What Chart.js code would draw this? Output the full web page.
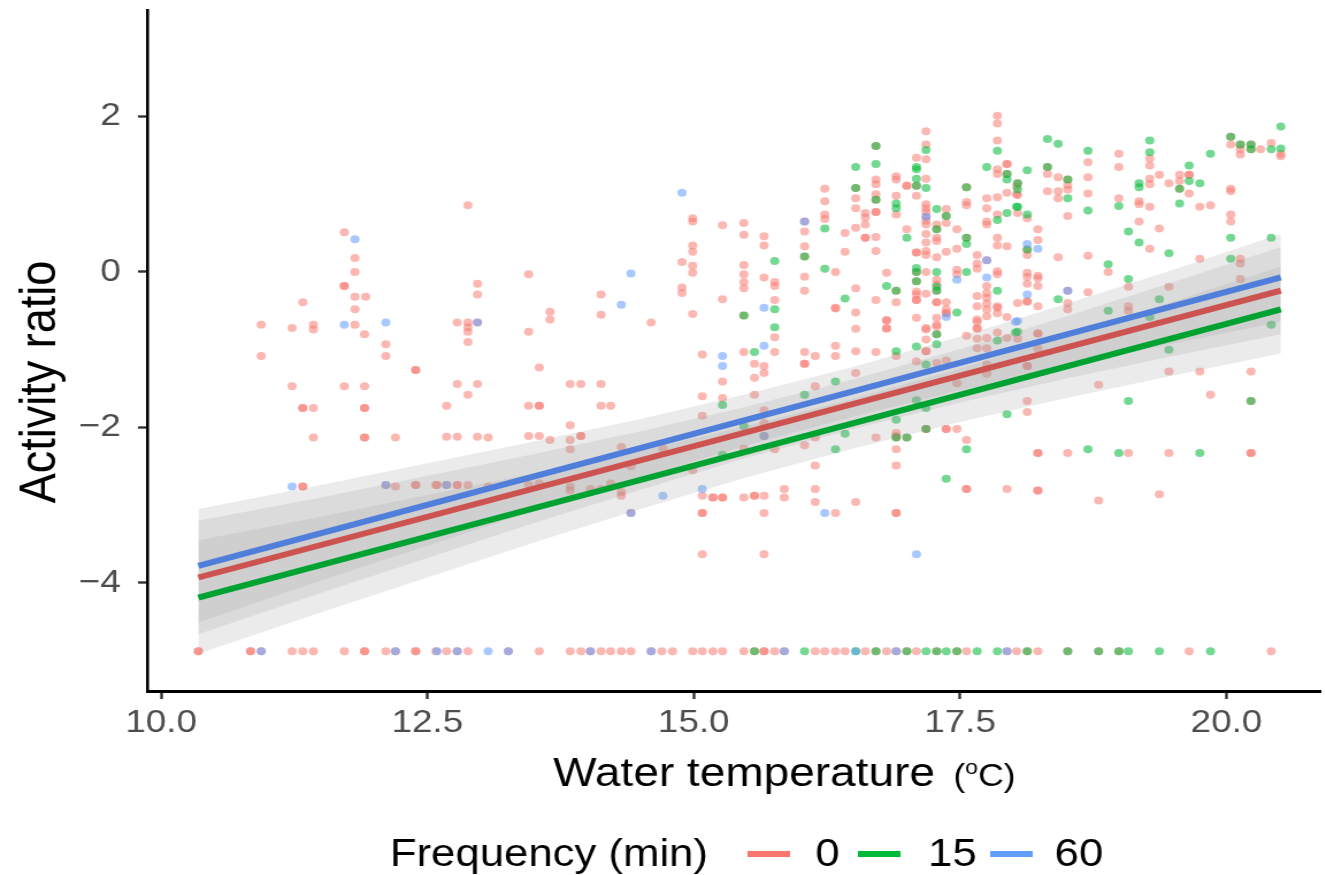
<!DOCTYPE html>
<html>
<head>
<meta charset="utf-8">
<script src="https://cdn.jsdelivr.net/npm/chart.js@4.4.1/dist/chart.umd.min.js"></script>
<style>
  html, body { margin: 0; padding: 0; background: #fff; overflow: hidden; }
  /* the reference is stretched sideways, so the canvas is drawn narrow and widened */
  #chart { display: block; transform: scaleX(1.15); transform-origin: 0 0; }
</style>
</head>
<body>
<canvas id="chart" width="1152" height="875"></canvas>
<script>
const FAMILY = '"Liberation Sans", Arial, Helvetica, sans-serif';

// axis ranges and ticks
const xRange = [9.87, 20.88];
const yRange = [-5.39, 3.37];
const xTicks = [10, 12.5, 15, 17.5, 20];
const yTicks = [-4, -2, 0, 2];

const groups = ['0', '15', '60'];

// fitted lines (start / end)
const fitX = [10.35, 20.51];
const fit0 = [-3.93, -0.24];
const fit15 = [-4.19, -0.48];
const fit60 = [-3.78, -0.07];

// confidence ribbons, read at these temperatures
const bandX = [10.35, 11.5, 12.5, 13.5, 14.5, 15.5, 16.5, 17.5, 18.5, 19.5, 20.51];
const band0Hi = [-3.20, -2.90, -2.62, -2.34, -2.05, -1.73, -1.38, -0.99, -0.57, -0.13, 0.32];
const band0Lo = [-4.66, -4.13, -3.68, -3.23, -2.80, -2.39, -2.02, -1.68, -1.37, -1.08, -0.80];
const band15Hi = [-3.45, -3.15, -2.87, -2.59, -2.30, -1.98, -1.63, -1.24, -0.82, -0.38, 0.07];
const band15Lo = [-4.91, -4.38, -3.93, -3.48, -3.05, -2.64, -2.27, -1.93, -1.62, -1.33, -1.05];
const band60Hi = [-3.05, -2.74, -2.46, -2.18, -1.89, -1.57, -1.22, -0.83, -0.41, 0.03, 0.49];
const band60Lo = [-4.51, -3.97, -3.52, -3.07, -2.64, -2.23, -1.86, -1.52, -1.21, -0.92, -0.64];

// observations [temperature, activity ratio]
const pts0 = [
  [10.35,-4.88],[10.35,-4.88],[10.84,-4.88],[10.84,-4.88],[10.94,-4.88],[11.23,-4.88],[11.33,-4.88],[11.43,-4.88],
  [11.72,-4.88],[11.91,-4.88],[11.91,-4.88],[12.11,-4.88],[12.20,-4.88],[12.39,-4.88],[12.39,-4.88],[12.58,-4.88],
  [12.68,-4.88],[12.78,-4.88],[12.88,-4.88],[13.26,-4.88],[13.55,-4.88],[13.84,-4.88],[13.94,-4.88],[14.03,-4.88],
  [14.13,-4.88],[14.22,-4.88],[14.32,-4.88],[14.41,-4.88],[14.60,-4.88],[14.70,-4.88],[14.80,-4.88],[14.99,-4.88],
  [15.08,-4.88],[15.18,-4.88],[15.27,-4.88],[15.47,-4.88],[15.57,-4.88],[15.66,-4.88],[15.66,-4.88],[15.76,-4.88],
  [15.85,-4.88],[16.14,-4.88],[16.23,-4.88],[16.33,-4.88],[16.42,-4.88],[16.61,-4.88],[16.71,-4.88],[16.81,-4.88],
  [16.90,-4.88],[17.00,-4.88],[17.09,-4.88],[17.28,-4.88],[17.47,-4.88],[17.56,-4.88],[17.94,-4.88],[18.03,-4.88],
  [18.13,-4.88],[18.23,-4.88],[18.51,-4.88],[18.80,-4.88],[18.99,-4.88],[19.65,-4.88],[20.42,-4.88],
  [11.72,0.51],[11.82,0.18],[11.82,0.00],[11.72,-0.18],[11.72,-0.18],[11.82,-0.32],[11.92,-0.32],[11.33,-0.39],
  [11.82,-0.48],[10.94,-0.68],[11.23,-0.72],[11.43,-0.68],[11.43,-0.74],[11.82,-0.68],[11.91,-0.80],[12.11,-0.93],
  [10.94,-1.08],[12.11,-1.08],[12.39,-1.26],[12.39,-1.26],[11.23,-1.47],[11.72,-1.47],[11.91,-1.47],[11.33,-1.75],
  [11.33,-1.75],[11.43,-1.75],[11.91,-1.75],[11.91,-1.75],[11.43,-2.13],[11.91,-2.13],[11.91,-2.13],[12.20,-2.13],
  [11.33,-2.76],[11.33,-2.76],[12.11,-2.74],[12.20,-2.76],[12.39,-2.74],[12.39,-2.74],[12.58,-2.74],
  [12.88,0.86],[14.99,0.69],[14.99,0.65],[15.27,0.60],[14.99,0.34],[14.99,0.26],[14.89,0.13],[14.99,0.08],
  [14.99,-0.01],[12.97,-0.15],[12.97,-0.29],[13.45,-0.03],[14.13,-0.29],[14.89,-0.20],[14.89,-0.27],[15.27,-0.35],
  [13.65,-0.51],[13.65,-0.61],[14.13,-0.55],[14.99,-0.54],[14.60,-0.65],[12.78,-0.65],[12.88,-0.65],[12.88,-0.71],
  [12.88,-0.77],[12.88,-0.90],[12.97,-0.65],[13.45,-0.77],[13.55,-1.23],[12.78,-1.44],[12.97,-1.44],[12.88,-1.58],
  [12.68,-1.72],[13.45,-1.72],[13.55,-1.72],[13.55,-1.72],[13.84,-1.44],[13.94,-1.44],[14.13,-1.44],[14.13,-1.72],
  [14.22,-1.72],[12.68,-2.12],[12.78,-2.12],[12.97,-2.12],[13.07,-2.13],[13.45,-2.11],[13.55,-2.11],[13.65,-2.16],
  [13.84,-1.97],[13.84,-2.16],[13.94,-2.11],[13.94,-2.11],[13.84,-2.28],[14.32,-2.25],[14.71,-2.27],[15.08,-1.06],
  [15.08,-1.60],[15.08,-1.85],[15.27,-1.41],[15.27,-1.62],[12.59,-2.74],[12.68,-2.74],[12.78,-2.74],[12.78,-2.74],
  [12.88,-2.74],[13.07,-2.76],[13.45,-2.74],[13.55,-2.72],[13.84,-2.76],[13.84,-2.81],[14.03,-2.79],[14.13,-2.79],
  [14.22,-2.72],[14.32,-2.83],[14.32,-2.88],[14.41,-2.50],[14.41,-3.10],[14.99,-2.55],[15.08,-2.88],[15.18,-2.90],
  [15.18,-2.90],[15.27,-2.90],[15.27,-2.90],[15.08,-3.10],[15.08,-3.10],[15.08,-3.63],
  [15.47,0.63],[15.47,0.48],[15.47,0.09],[15.47,-0.03],[15.47,-0.13],[15.47,-0.21],[15.47,-0.56],[15.66,0.46],
  [15.66,0.34],[15.66,-0.07],[15.76,-0.13],[15.76,-0.18],[15.76,-0.36],[16.04,0.65],[16.04,0.52],[16.04,0.33],
  [16.04,0.20],[16.04,-0.06],[16.04,-0.24],[16.23,1.07],[16.23,0.91],[16.23,0.74],[16.23,0.68],[16.33,0.00],
  [16.33,-0.47],[16.42,0.50],[16.42,0.26],[16.52,1.08],[16.52,0.95],[16.52,0.82],[16.52,0.57],[16.52,-0.21],
  [16.52,-0.52],[16.61,0.76],[16.61,0.70],[16.61,0.61],[16.61,0.44],[16.61,0.44],[16.71,1.62],[16.71,1.19],
  [16.71,1.13],[16.71,1.00],[16.71,0.93],[16.71,0.77],[16.71,0.77],[16.71,0.45],[16.71,0.27],[16.71,-0.36],
  [16.81,-0.01],[16.81,-0.62],[16.81,-0.62],[16.81,-0.72],[16.90,1.23],[16.90,1.19],[16.90,0.98],[16.90,0.74],
  [16.90,-0.24],[16.90,-0.39],[17.00,1.11],[17.00,1.11],[17.00,0.55],[17.09,1.47],[17.09,1.11],[17.09,0.98],
  [17.09,0.25],[17.09,0.25],[17.09,0.00],[17.09,-0.12],[17.09,-0.25],[17.09,-0.29],[17.09,-0.36],[17.09,-0.36],
  [17.09,-0.59],[17.18,1.81],[17.18,1.64],[17.18,1.45],[17.18,1.20],[17.18,0.87],[17.18,0.82],[17.18,0.77],
  [17.18,0.71],[17.18,0.66],[17.18,0.61],[17.18,0.49],[17.18,0.38],[17.18,0.27],[17.18,0.22],[17.18,0.00],
  [17.18,-0.28],[17.18,-0.72],[17.28,0.61],[17.28,0.55],[17.28,0.44],[17.28,0.40],[17.28,0.19],[17.28,-0.10],
  [17.28,-0.16],[17.28,-0.24],[17.28,-0.39],[17.28,-0.39],[17.28,-0.59],[17.28,-0.70],[17.37,0.81],[17.37,0.63],
  [17.37,0.72],[17.37,0.26],[17.37,-0.39],[17.37,-0.48],[17.37,-0.53],[17.37,-0.53],[17.47,0.55],[17.47,0.30],
  [17.47,0.03],[17.47,-0.03],[17.56,1.09],[17.56,0.90],[17.56,0.86],[17.56,0.44],[17.66,0.22],[17.66,0.11],
  [17.66,0.04],[17.66,-0.31],[17.66,-0.44],[17.66,-0.61],[17.66,-0.72],[17.75,0.95],[17.75,0.82],[17.75,0.65],
  [17.75,0.61],[17.75,0.15],[17.75,-0.18],[17.75,-0.27],[17.75,-0.33],[17.75,-0.41],[17.75,-0.48],[17.75,-0.57],
  [17.85,2.01],[17.85,1.91],[17.85,1.69],[17.85,1.32],[17.85,1.26],[17.85,0.96],[17.85,0.74],[17.85,0.44],
  [17.85,0.34],[17.85,0.01],[17.85,-0.03],[17.85,-0.44],[17.85,-0.53],[17.94,1.39],[17.94,1.39],[17.94,1.26],
  [17.94,1.02],[17.94,0.33],[17.94,-0.58],[18.03,1.10],[18.03,1.00],
  [15.47,-1.03],[15.47,-2.27],[15.57,-1.18],[15.57,-1.36],[15.57,-1.58],[15.66,-1.21],[15.66,-1.30],[15.66,-1.78],
  [15.66,-1.94],[15.66,-2.11],[15.76,-0.84],[15.76,-1.03],[15.76,-2.28],[16.04,-1.03],[16.04,-1.18],[16.04,-1.18],
  [16.04,-2.23],[16.14,-1.08],[16.14,-1.47],[16.14,-2.13],[16.14,-2.49],[16.33,-0.46],[16.33,-0.95],[16.33,-1.08],
  [16.52,-0.73],[16.52,-1.02],[16.52,-1.30],[16.71,-1.03],[16.71,-2.13],[16.81,-0.73],[16.90,-1.08],[16.90,-2.07],
  [16.90,-2.11],[16.90,-2.13],[16.90,-2.28],[16.90,-2.49],[17.00,-2.13],[17.09,-1.15],[17.18,-0.74],[17.18,-0.87],
  [17.18,-1.02],[17.18,-1.02],[17.18,-2.02],[17.18,-2.02],[17.28,-0.68],[17.28,-0.80],[17.28,-1.17],[17.37,-1.14],
  [17.37,-2.02],[17.37,-2.02],[17.47,-1.43],[17.47,-2.02],[17.56,-0.82],[17.56,-2.16],[17.56,-2.79],[17.56,-2.79],
  [17.66,-0.64],[17.66,-0.73],[17.66,-0.86],[17.66,-0.98],[17.75,-0.85],[17.75,-0.98],[17.75,-1.19],[17.75,-1.31],
  [17.85,-0.46],[17.85,-0.78],[17.94,-2.79],[17.94,-0.85],[15.47,-2.90],[15.57,-2.88],[15.57,-2.88],[15.66,-2.88],
  [15.85,-2.79],[15.85,-2.90],[16.14,-2.79],[16.14,-2.96],[16.52,-2.96],[15.66,-3.10],[16.33,-3.10],[16.90,-3.10],
  [16.90,-3.10],[15.66,-3.63],
  [18.04,1.14],[18.04,0.99],[18.04,0.76],[18.13,0.69],[18.13,0.29],[18.13,0.22],[18.13,-0.01],[18.13,-0.06],
  [18.13,-0.15],[18.13,-0.38],[18.13,-0.38],[18.23,0.55],[18.23,0.41],[18.23,-0.05],[18.23,-0.08],[18.23,-0.18],
  [18.23,-0.44],[18.32,1.35],[18.32,1.26],[18.32,1.04],[18.42,1.22],[18.42,1.04],[18.42,0.95],[18.42,0.19],
  [18.51,1.19],[18.51,1.12],[18.51,1.06],[18.51,0.72],[18.51,-0.24],[18.51,-0.40],[18.51,-0.48],[18.70,1.41],
  [18.70,1.22],[18.70,1.01],[18.70,0.21],[18.70,-0.26],[18.89,0.00],[18.99,1.52],[18.99,1.35],[18.99,0.95],
  [19.08,-0.19],[19.08,-0.44],[19.08,-0.50],[19.18,0.91],[19.18,0.87],[19.18,0.65],[19.28,1.46],[19.28,1.37],
  [19.28,1.20],[19.28,1.13],[19.28,0.84],[19.28,0.30],[19.37,1.25],[19.37,0.56],[19.46,1.14],[19.46,-0.19],
  [19.56,1.25],[19.56,1.17],[19.56,1.07],[19.65,1.25],[19.65,1.25],[19.65,1.01],[19.75,0.84],[19.75,0.17],
  [19.85,0.86],[20.04,1.74],[20.04,1.64],[20.04,1.07],[20.04,1.04],[20.04,0.74],[20.04,0.65],[20.13,1.64],
  [20.13,1.58],[20.13,1.51],[20.13,0.17],[20.13,0.11],[20.13,-0.09],[20.23,1.64],[20.23,1.58],[20.32,1.58],
  [20.42,1.66],[20.51,1.52],[20.51,1.49],
  [18.04,-0.40],[18.04,-0.86],[18.23,-0.79],[18.23,-0.79],[18.23,-0.98],[18.13,-1.21],[18.13,-1.21],[19.46,-1.28],
  [19.75,-1.28],[20.23,-1.28],[18.80,-1.45],[19.85,-1.58],[18.13,-1.66],[18.13,-1.80],[18.23,-2.33],[18.23,-2.33],
  [18.51,-2.33],[19.08,-2.33],[19.46,-2.33],[20.23,-2.33],[20.23,-2.33],[18.23,-2.81],[18.23,-2.81],[18.80,-2.94],
  [19.37,-2.86],[20.23,-1.66]
];

const pts15 = [
  [15.57,-4.88],[16.04,-4.88],[16.52,-4.88],[16.71,-4.88],[17.00,-4.88],[17.18,-4.88],[17.28,-4.88],[17.37,-4.88],
  [17.47,-4.88],[17.66,-4.88],[17.85,-4.88],[18.13,-4.88],[18.51,-4.88],[18.80,-4.88],[18.99,-4.88],[19.08,-4.88],
  [19.37,-4.88],[19.85,-4.88],
  [15.27,-1.71],[15.27,-2.35],[15.47,-0.56],[15.76,0.14],[15.76,-0.48],[15.76,-0.71],[16.04,0.20],[16.23,0.56],
  [16.23,0.04],[16.42,-0.34],[16.52,1.35],[16.52,1.08],[16.71,1.62],[16.71,1.39],[16.71,0.93],[16.81,-0.18],
  [16.90,0.88],[16.90,0.82],[16.90,-0.24],[17.00,0.44],[17.09,1.35],[17.09,1.32],[17.09,1.20],[17.09,1.11],
  [17.09,0.05],[17.09,0.00],[17.09,-0.12],[17.18,1.57],[17.18,1.08],[17.28,0.81],[17.28,0.55],[17.28,0.00],
  [17.28,-0.19],[17.28,-0.24],[17.37,0.72],[17.47,-0.52],[17.56,1.09],[17.56,0.44],[17.56,0.36],[17.56,0.00],
  [17.75,1.35],[17.85,1.56],[17.85,0.67],[17.85,-0.24],[17.94,1.26],[17.94,1.19],[17.94,0.76],[18.03,0.84],
  [15.47,-1.98],[15.57,-1.03],[16.04,-1.58],[16.33,-1.41],[16.33,-2.28],[16.42,-2.08],[16.90,-1.02],[16.90,-1.90],
  [16.90,-2.13],[17.00,-2.13],[17.09,-0.96],[17.09,-1.65],[17.18,-1.19],[17.18,-1.75],[17.18,-2.02],[17.28,-0.80],
  [17.28,-0.93],[17.56,-2.28],[17.85,-0.88],[17.94,-1.83],[18.02,-0.78],[17.37,-2.66],
  [18.04,1.14],[18.04,1.06],[18.04,0.84],[18.13,1.31],[18.13,0.74],[18.13,0.29],[18.32,1.71],[18.32,1.35],
  [18.42,1.65],[18.42,-0.35],[18.51,1.19],[18.51,0.95],[18.70,1.56],[18.70,0.79],[18.89,0.10],[18.89,-0.50],
  [18.99,0.85],[19.08,0.52],[19.08,-0.09],[19.18,1.14],[19.18,1.09],[19.18,0.38],[19.28,1.69],[19.28,1.54],
  [19.28,-0.58],[19.37,-0.35],[19.46,0.24],[19.56,1.07],[19.56,0.88],[19.65,1.37],[19.65,1.17],[19.75,1.14],
  [19.85,1.52],[20.04,1.74],[20.04,0.44],[20.04,0.17],[20.13,1.64],[20.23,1.64],[20.23,1.58],[20.42,1.58],
  [20.42,0.44],[20.51,1.87],[20.51,1.59],[20.42,-0.68],
  [18.04,-0.77],[19.46,-1.00],[19.08,-1.66],[20.23,-1.66],[18.70,-2.28],[18.99,-2.33],[19.75,-2.33]
];

const pts60 = [
  [10.94,-4.88],[12.20,-4.88],[12.59,-4.88],[12.78,-4.88],[13.07,-4.88],[13.26,-4.88],[14.03,-4.88],[14.60,-4.88],
  [15.85,-4.88],[16.52,-4.88],[16.90,-4.88],[17.94,-4.88],
  [11.82,0.42],[11.72,-0.68],[12.11,-0.65],[11.23,-2.76],[12.11,-2.74],
  [14.89,1.02],[14.41,-0.02],[14.32,-0.42],[12.97,-0.65],[15.27,-1.08],[15.27,-1.21],[12.68,-2.74],[14.41,-3.10],
  [14.71,-2.88],[15.08,-2.79],
  [15.66,-0.46],[16.04,0.65],[17.18,0.71],[17.37,-0.58],[17.47,-0.10],[17.75,-0.07],[17.75,0.15],
  [15.66,-0.95],[15.66,-2.11],[16.23,-3.10],[18.02,-0.64],[17.09,-3.63],
  [18.13,0.36],[18.13,-0.29],[18.23,0.30],[18.51,-0.24],[18.04,-0.63]
];

const pointColors = ['rgba(248,118,109,0.52)', 'rgba(0,186,56,0.55)', 'rgba(97,156,255,0.55)'];
const lineColors = ['#CD5350', '#00A332', '#4F7FDB'];
const keyColors = ['#F8766D', '#00BA38', '#619CFF'];
const bandFill = 'rgba(153,153,153,0.2)';

const xy = (xs, ys) => xs.map((x, i) => ({ x: x, y: ys[i] }));
const pairs = arr => arr.map(p => ({ x: p[0], y: p[1] }));

function fitLine(ys, color) {
  return { type: 'line', data: xy(fitX, ys), borderColor: color, borderWidth: 6,
           pointRadius: 0, fill: false, borderCapStyle: 'butt' };
}
function bandLo(ys) {
  return { type: 'line', data: xy(bandX, ys), borderColor: 'rgba(0,0,0,0)', borderWidth: 1,
           pointRadius: 0, fill: false };
}
function bandHi(ys) {
  return { type: 'line', data: xy(bandX, ys), borderColor: 'rgba(0,0,0,0)', borderWidth: 1,
           pointRadius: 0, fill: '-1', backgroundColor: bandFill };
}
function points(arr, color) {
  return { type: 'scatter', data: pairs(arr), backgroundColor: color, borderWidth: 0,
           pointRadius: 4, pointHoverRadius: 4 };
}

// no extra label padding: the plot area must sit exactly where the reference has it
function noPad(s) {
  s.paddingTop = 0; s.paddingBottom = 0; s.paddingLeft = 0; s.paddingRight = 0;
}

// axis titles and legend drawn by hand (the unit and the legend sit inline)
const extras = {
  id: 'extras',
  afterDraw(chart) {
    const ctx = chart.ctx;
    ctx.save();
    ctx.fillStyle = '#000';
    ctx.textBaseline = 'alphabetic';

    // x title
    ctx.font = '40px ' + FAMILY;
    ctx.textAlign = 'left';
    ctx.fillText('Water temperature', 481, 786);
    let ux = 829;
    ctx.font = '31px ' + FAMILY;
    ctx.fillText('(', ux, 786);
    ux += ctx.measureText('(').width;
    ctx.font = '20px ' + FAMILY;
    ctx.fillText('o', ux, 774);
    ux += ctx.measureText('o').width;
    ctx.font = '31px ' + FAMILY;
    ctx.fillText('C)', ux, 786);

    // y title
    ctx.save();
    ctx.translate(48, 382);
    ctx.rotate(-Math.PI / 2);
    ctx.textAlign = 'center';
    ctx.font = '45px ' + FAMILY;
    ctx.fillText('Activity ratio', 0, 0);
    ctx.restore();

    // legend
    ctx.font = '38px ' + FAMILY;
    ctx.textAlign = 'left';
    ctx.fillText('Frequency (min)', 339, 866);
    const keyX = [650, 746, 861];
    const labX = [709, 807, 917];
    ctx.lineWidth = 6;
    groups.forEach((g, i) => {
      ctx.strokeStyle = keyColors[i];
      ctx.beginPath();
      ctx.moveTo(keyX[i], 854);
      ctx.lineTo(keyX[i] + 37, 854);
      ctx.stroke();
      ctx.fillText(g, labX[i], 866);
    });
    ctx.restore();
  }
};

new Chart(document.getElementById('chart'), {
  type: 'scatter',
  data: {
    datasets: [
      fitLine(fit60, lineColors[2]),
      fitLine(fit0, lineColors[0]),
      fitLine(fit15, lineColors[1]),
      bandLo(band60Lo), bandHi(band60Hi),
      bandLo(band15Lo), bandHi(band15Hi),
      bandLo(band0Lo), bandHi(band0Hi),
      points(pts60, pointColors[2]),
      points(pts15, pointColors[1]),
      points(pts0, pointColors[0])
    ]
  },
  options: {
    responsive: false,
    devicePixelRatio: 1,
    animation: false,
    layout: { padding: { top: 10, left: 0, right: 0, bottom: 0 } },
    plugins: { legend: { display: false }, tooltip: { enabled: false } },
    scales: {
      x: {
        type: 'linear', min: xRange[0], max: xRange[1],
        afterBuildTicks: s => { s.ticks = xTicks.map(v => ({ value: v })); },
        afterFit: s => { s.height = 184; noPad(s); },
        ticks: { callback: v => v.toFixed(1), color: '#4D4D4D', font: { size: 32, family: FAMILY },
                 padding: 5, maxRotation: 0, autoSkip: false },
        grid: { drawOnChartArea: false, drawTicks: true, tickLength: 8, tickColor: '#333', tickWidth: 2.4 },
        border: { display: true, color: '#000', width: 3 }
      },
      y: {
        type: 'linear', min: yRange[0], max: yRange[1],
        afterBuildTicks: s => { s.ticks = yTicks.map(v => ({ value: v })); },
        afterFit: s => { s.width = 128; noPad(s); },
        ticks: { callback: v => (v < 0 ? '\u2212' + Math.abs(v) : String(v)), color: '#4D4D4D',
                 font: { size: 32, family: FAMILY }, padding: 15 },
        grid: { drawOnChartArea: false, drawTicks: true, tickLength: 8, tickColor: '#333', tickWidth: 2.4 },
        border: { display: true, color: '#000', width: 2.6 }
      }
    }
  },
  plugins: [extras]
});
</script>
</body>
</html>
